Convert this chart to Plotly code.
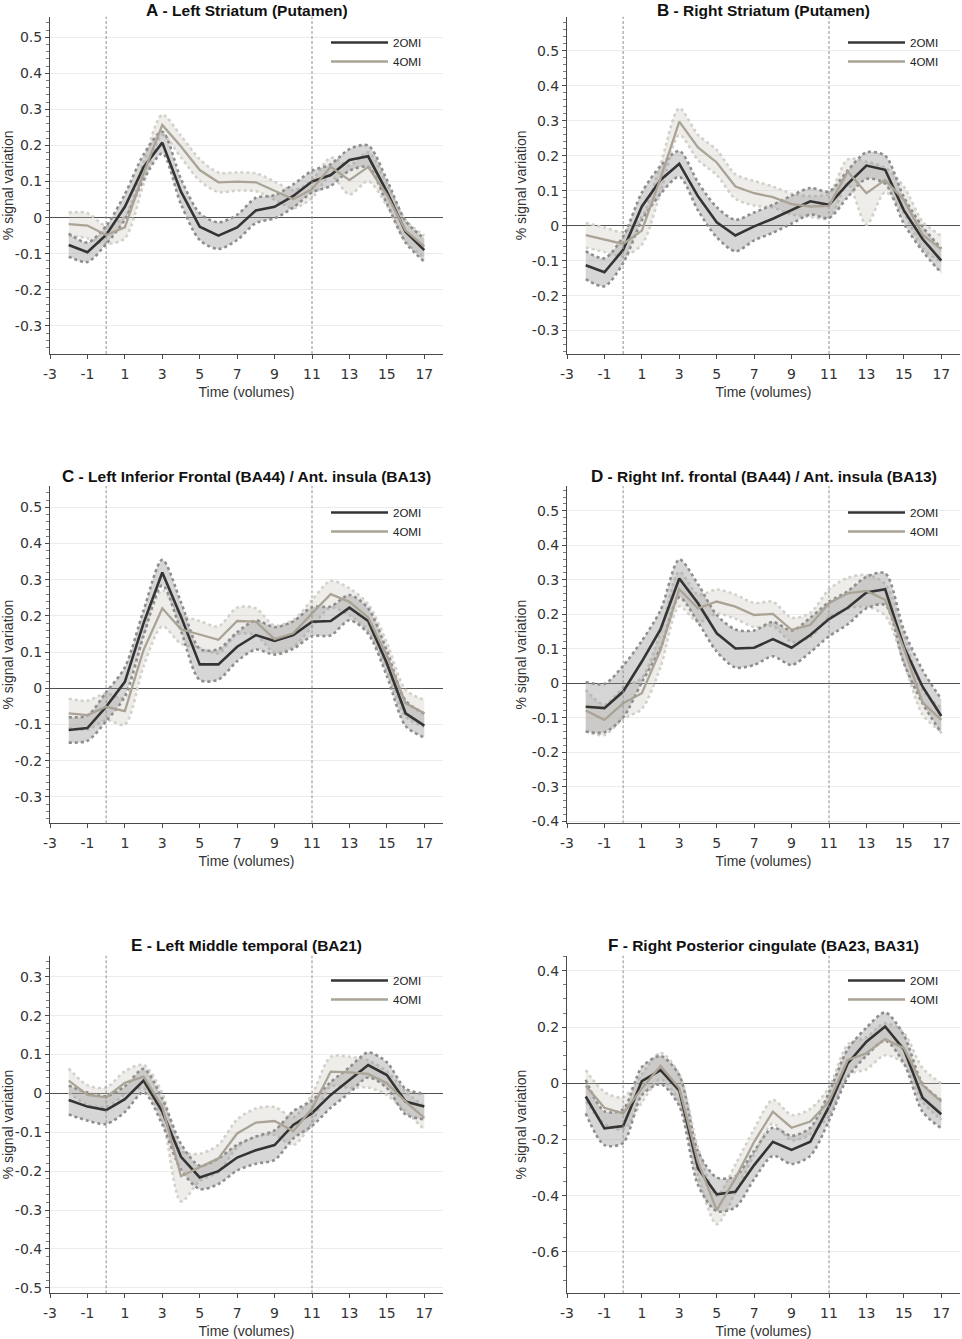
import plotly.graph_objects as go

# ---------------- data ----------------
time = list(range(-2, 18))
event_onsets = [0, 11]
x_tick_values = list(range(-3, 18, 2))

titles = [
    ("A", "Left Striatum (Putamen)"),
    ("B", "Right Striatum (Putamen)"),
    ("C", "Left Inferior Frontal (BA44) / Ant. insula (BA13)"),
    ("D", "Right Inf. frontal (BA44) / Ant. insula (BA13)"),
    ("E", "Left Middle temporal (BA21)"),
    ("F", "Right Posterior cingulate (BA23, BA31)"),
]

A_2omi = [-0.076,-0.096,-0.048,0.030,0.140,0.208,0.072,-0.025,-0.050,-0.027,0.020,0.030,0.060,0.100,0.118,0.160,0.170,0.072,-0.039,-0.090]
A_2omi_ci = [0.032,0.027,0.025,0.035,0.035,0.030,0.035,0.037,0.037,0.035,0.035,0.032,0.032,0.030,0.030,0.030,0.030,0.033,0.030,0.032]
A_4omi = [-0.018,-0.022,-0.048,-0.027,0.123,0.257,0.197,0.132,0.098,0.100,0.098,0.075,0.051,0.079,0.141,0.104,0.141,0.063,-0.036,-0.080]
A_4omi_ci = [0.032,0.035,0.025,0.030,0.030,0.028,0.030,0.030,0.027,0.025,0.025,0.025,0.025,0.025,0.025,0.040,0.040,0.030,0.030,0.030]

B_2omi = [-0.113,-0.133,-0.069,0.055,0.131,0.177,0.084,0.010,-0.028,-0.002,0.020,0.046,0.070,0.060,0.120,0.172,0.160,0.044,-0.038,-0.100]
B_2omi_ci = [0.040,0.040,0.038,0.040,0.040,0.037,0.040,0.043,0.045,0.040,0.040,0.040,0.038,0.038,0.038,0.038,0.040,0.038,0.035,0.035]
B_4omi = [-0.027,-0.040,-0.052,-0.014,0.136,0.298,0.224,0.181,0.112,0.093,0.082,0.062,0.055,0.057,0.155,0.093,0.131,0.074,-0.026,-0.067]
B_4omi_ci = [0.035,0.035,0.035,0.040,0.040,0.038,0.036,0.036,0.035,0.035,0.030,0.030,0.030,0.035,0.035,0.090,0.035,0.038,0.038,0.038]

C_2omi = [-0.115,-0.110,-0.051,0.018,0.180,0.320,0.198,0.066,0.066,0.115,0.147,0.131,0.147,0.184,0.186,0.223,0.186,0.069,-0.069,-0.103]
C_2omi_ci = [0.035,0.035,0.040,0.040,0.035,0.035,0.040,0.043,0.042,0.040,0.040,0.038,0.038,0.040,0.040,0.035,0.035,0.035,0.035,0.033]
C_4omi = [-0.069,-0.074,-0.051,-0.063,0.106,0.221,0.163,0.149,0.134,0.186,0.184,0.136,0.152,0.207,0.260,0.239,0.196,0.089,-0.041,-0.069]
C_4omi_ci = [0.040,0.040,0.037,0.037,0.045,0.050,0.040,0.037,0.037,0.037,0.037,0.037,0.037,0.037,0.037,0.037,0.037,0.037,0.037,0.037]

D_2omi = [-0.068,-0.072,-0.024,0.063,0.157,0.304,0.232,0.145,0.101,0.103,0.128,0.103,0.140,0.186,0.219,0.263,0.273,0.106,-0.010,-0.095]
D_2omi_ci = [0.072,0.070,0.075,0.060,0.055,0.055,0.055,0.053,0.055,0.050,0.050,0.050,0.050,0.050,0.048,0.046,0.046,0.048,0.048,0.049]
D_4omi = [-0.079,-0.106,-0.058,-0.029,0.097,0.273,0.217,0.237,0.222,0.198,0.201,0.155,0.169,0.232,0.261,0.268,0.242,0.101,-0.056,-0.106]
D_4omi_ci = [0.060,0.044,0.045,0.045,0.050,0.050,0.040,0.035,0.035,0.035,0.035,0.035,0.035,0.040,0.045,0.046,0.046,0.040,0.035,0.035]

E_2omi = [-0.017,-0.034,-0.043,-0.015,0.033,-0.047,-0.163,-0.216,-0.200,-0.165,-0.146,-0.133,-0.081,-0.051,-0.004,0.034,0.073,0.047,-0.021,-0.034]
E_2omi_ci = [0.037,0.036,0.036,0.033,0.030,0.033,0.033,0.030,0.033,0.033,0.035,0.038,0.035,0.033,0.033,0.033,0.032,0.033,0.033,0.033]
E_4omi = [0.033,-0.004,-0.010,0.027,0.043,-0.034,-0.213,-0.190,-0.167,-0.103,-0.075,-0.071,-0.097,-0.039,0.056,0.054,0.050,0.026,-0.021,-0.063]
E_4omi_ci = [0.031,0.025,0.025,0.030,0.030,0.035,0.065,0.035,0.035,0.036,0.036,0.036,0.036,0.036,0.038,0.040,0.035,0.030,0.025,0.030]

F_2omi = [-0.047,-0.160,-0.152,0.008,0.047,-0.026,-0.302,-0.395,-0.386,-0.291,-0.208,-0.237,-0.208,-0.083,0.071,0.148,0.202,0.121,-0.051,-0.110]
F_2omi_ci = [0.060,0.060,0.060,0.050,0.050,0.055,0.060,0.060,0.055,0.050,0.050,0.050,0.050,0.050,0.050,0.050,0.050,0.050,0.050,0.050]
F_4omi = [-0.009,-0.087,-0.107,-0.018,0.062,-0.018,-0.279,-0.451,-0.338,-0.208,-0.101,-0.158,-0.136,-0.065,0.083,0.107,0.157,0.125,-0.006,-0.065]
F_4omi_ci = [0.056,0.056,0.057,0.050,0.047,0.050,0.050,0.050,0.050,0.045,0.042,0.045,0.045,0.050,0.055,0.057,0.057,0.055,0.060,0.065]

panels_2omi = [(A_2omi, A_2omi_ci), (B_2omi, B_2omi_ci), (C_2omi, C_2omi_ci),
               (D_2omi, D_2omi_ci), (E_2omi, E_2omi_ci), (F_2omi, F_2omi_ci)]
panels_4omi = [(A_4omi, A_4omi_ci), (B_4omi, B_4omi_ci), (C_4omi, C_4omi_ci),
               (D_4omi, D_4omi_ci), (E_4omi, E_4omi_ci), (F_4omi, F_4omi_ci)]

y_ranges = [[-0.378, 0.557], [-0.367, 0.598], [-0.373, 0.559],
            [-0.406, 0.572], [-0.514, 0.354], [-0.747, 0.454]]
y_tick_values = [
    [-0.3, -0.2, -0.1, 0, 0.1, 0.2, 0.3, 0.4, 0.5],
    [-0.3, -0.2, -0.1, 0, 0.1, 0.2, 0.3, 0.4, 0.5],
    [-0.3, -0.2, -0.1, 0, 0.1, 0.2, 0.3, 0.4, 0.5],
    [-0.4, -0.3, -0.2, -0.1, 0, 0.1, 0.2, 0.3, 0.4, 0.5],
    [-0.5, -0.4, -0.3, -0.2, -0.1, 0, 0.1, 0.2, 0.3],
    [-0.6, -0.4, -0.2, 0, 0.2, 0.4],
]
y_minor = [0.02, 0.02, 0.02, 0.02, 0.02, 0.05]

# ---------------- layout geometry ----------------
W, H = 962, 1339
FONT = "Liberation Sans, Arial, sans-serif"
TICKFONT = "DejaVu Sans, Liberation Sans, sans-serif"
col_px = [(50, 443), (567, 960)]
row_px = [(16.7, 354.0), (486.0, 823.3), (955.7, 1293.3)]
title_px = [0.0, 465.5, 935.0]          # top edge of each row's title box
legend_px = [(326, 28), (843, 28), (326, 498), (843, 498), (326, 966), (843, 966)]

styles = {
    "2OMI": dict(line="#343434", lw=2.6, band="rgba(140,140,140,0.36)", edge="#8e8e8e"),
    "4OMI": dict(line="#aaa396", lw=2.3, band="rgba(200,195,185,0.30)", edge="#d3d1cb"),
}

fig = go.Figure()

for i in range(6):
    r, c = divmod(i, 2)
    ax = "" if i == 0 else str(i + 1)
    xref, yref = "x" + ax, "y" + ax
    leg = "legend" if i == 0 else "legend" + str(i + 1)
    series = {"2OMI": panels_2omi[i], "4OMI": panels_4omi[i]}
    for g in ["4OMI", "2OMI"]:
        m, ci = series[g]
        st = styles[g]
        lo = [a - b for a, b in zip(m, ci)]
        hi = [a + b for a, b in zip(m, ci)]
        fig.add_trace(go.Scatter(x=time, y=lo, mode="lines", xaxis=xref, yaxis=yref,
                                 line=dict(color=st["edge"], width=2.6, dash="dot", shape="spline", smoothing=0.8),
                                 showlegend=False, hoverinfo="skip"))
        fig.add_trace(go.Scatter(x=time, y=hi, mode="lines", xaxis=xref, yaxis=yref,
                                 line=dict(color=st["edge"], width=2.6, dash="dot", shape="spline", smoothing=0.8),
                                 fill="tonexty", fillcolor=st["band"],
                                 showlegend=False, hoverinfo="skip"))
    for g in ["2OMI", "4OMI"]:
        m, ci = series[g]
        st = styles[g]
        fig.add_trace(go.Scatter(x=time, y=m, mode="lines", name=g, xaxis=xref, yaxis=yref,
                                 line=dict(color=st["line"], width=st["lw"]),
                                 legend=leg, showlegend=True))

    x0p, x1p = col_px[c]
    t0p, b0p = row_px[r]
    xdom = [x0p / W, x1p / W]
    ydom = [1 - b0p / H, 1 - t0p / H]
    fig.layout["xaxis" + ax] = dict(
        domain=xdom, anchor=yref, range=[-3, 18],
        tickmode="array", tickvals=x_tick_values, ticktext=[f"{v:d}" for v in x_tick_values],
        showline=True, linecolor="#4a4a4a", linewidth=1, ticks="outside", ticklen=4,
        tickcolor="#4a4a4a", showgrid=False, zeroline=False, automargin=False,
        ticklabelstandoff=3,
        tickfont=dict(family=TICKFONT, size=14, color="#333333"),
        title=dict(text="Time (volumes)", font=dict(family=FONT, size=14, color="#333333"), standoff=6),
    )
    yt = y_tick_values[i]
    fig.layout["yaxis" + ax] = dict(
        domain=ydom, anchor=xref, range=y_ranges[i],
        tickmode="array", tickvals=yt, ticktext=[f"{v:g}" for v in yt],
        showline=True, linecolor="#4a4a4a", linewidth=1, ticks="outside", ticklen=4,
        tickcolor="#4a4a4a", showgrid=True, gridcolor="#ececec", gridwidth=1,
        zeroline=True, zerolinecolor="#505050", zerolinewidth=1.2, automargin=False,
        minor=dict(dtick=y_minor[i], tick0=0, ticks="outside", ticklen=3, tickcolor="#7a7a7a", showgrid=False),
        tickfont=dict(family=TICKFONT, size=14, color="#333333"),
        title=dict(text="% signal variation", font=dict(family=FONT, size=14, color="#333333"), standoff=1),
    )
    for xo in event_onsets:
        fig.add_shape(type="line", xref=xref, yref=yref + " domain", x0=xo, x1=xo, y0=0, y1=1,
                      line=dict(color="#8f8f8f", width=1, dash="3px,2px"))
    letter, name = titles[i]
    fig.add_annotation(xref="paper", yref="paper", x=(xdom[0] + xdom[1]) / 2, y=1 - title_px[r] / H,
                       text=f"<b><span style='font-size:17px'>{letter}</span> - {name}</b>",
                       showarrow=False, xanchor="center", yanchor="top", borderpad=0,
                       font=dict(family=FONT, size=15.5, color="#111111"))
    lx, ly = legend_px[i]
    fig.layout[leg] = dict(x=lx / W, y=1 - ly / H, xanchor="left", yanchor="top",
                           bgcolor="rgba(0,0,0,0)", borderwidth=0, itemwidth=57,
                           traceorder="normal", tracegroupgap=0,
                           font=dict(family=FONT, size=11.5, color="#222222"))

fig.update_layout(width=W, height=H, margin=dict(l=0, r=0, t=0, b=0),
                  paper_bgcolor="white", plot_bgcolor="white",
                  font=dict(family=FONT))

fig.write_html("out.html", config={"displayModeBar": False},
               post_script="document.body.style.margin='0px';")
